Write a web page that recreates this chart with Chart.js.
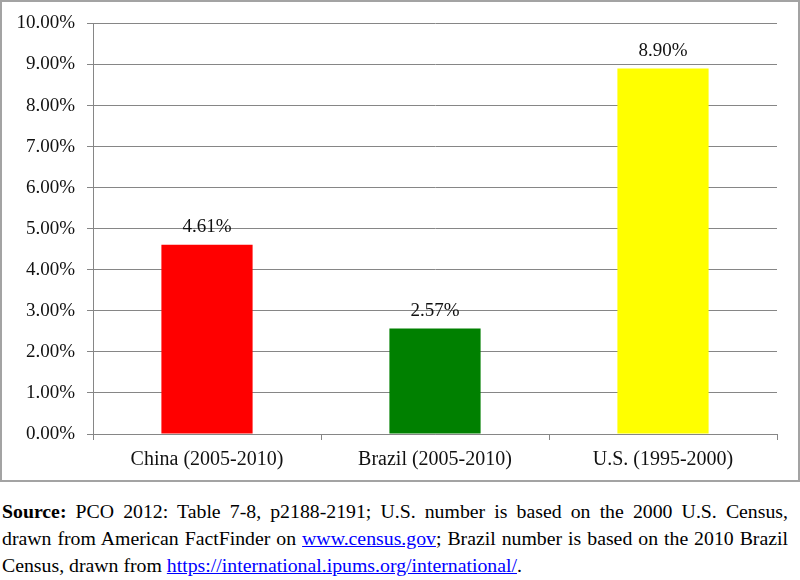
<!DOCTYPE html>
<html>
<head>
<meta charset="utf-8">
<script src="https://cdn.jsdelivr.net/npm/chart.js@4.4.0/dist/chart.umd.min.js"></script>
<style>
  body { margin: 0; background: #fff; width: 800px; height: 580px; position: relative; overflow: hidden; }
  #box { position: absolute; left: 0; top: 0; width: 800px; height: 482px; box-sizing: border-box; border: 2px solid #a3a3a3; }
  #wrap { position: absolute; left: 0; top: 0; width: 800px; height: 482px; }
  #source { position: absolute; left: 2px; top: 498px; width: 786px; font-family: "Liberation Serif", "Times New Roman", serif; font-size: 19.8px; line-height: 27px; color: #000; }
  #source .ln { text-align: justify; text-align-last: justify; white-space: nowrap; }
  #source .ln.last { text-align-last: left; }
  #source a { color: #0000ff; text-decoration: underline; }
</style>
</head>
<body>
<div id="box"></div>
<div id="wrap"><canvas id="growthChart"></canvas></div>
<div id="source">
  <div class="ln"><b>Source:</b> PCO 2012: Table 7-8, p2188-2191; U.S. number is based on the 2000 U.S. Census,</div>
  <div class="ln">drawn from American FactFinder on <a>www.census.gov</a>; Brazil number is based on the 2010 Brazil</div>
  <div class="ln last">Census, drawn from <a>https://international.ipums.org/international/</a>.</div>
</div>
<script>
// dados do gráfico
const categorias = ['China (2005-2010)', 'Brazil (2005-2010)', 'U.S. (1995-2000)'];
const taxas = [4.61, 2.57, 8.90];
const cores = ['#ff0000', '#008000', '#ffff00'];

const fonte = '"Liberation Serif", "Times New Roman", serif';

// rótulos em cima das barras
const rotulos = {
  id: 'rotulos',
  afterDatasetsDraw(chart) {
    const ctx = chart.ctx;
    const meta = chart.getDatasetMeta(0);
    ctx.save();
    ctx.font = '19px ' + fonte;
    ctx.fillStyle = '#111';
    ctx.textAlign = 'center';
    ctx.textBaseline = 'bottom';
    meta.data.forEach((bar, i) => {
      ctx.fillText(taxas[i].toFixed(2) + '%', bar.x, bar.y - 8);
    });
    ctx.restore();
  }
};

const ctx = document.getElementById('growthChart').getContext('2d');
new Chart(ctx, {
  type: 'bar',
  data: {
    labels: categorias,
    datasets: [{
      data: taxas,
      backgroundColor: cores,
      barPercentage: 0.4,
      categoryPercentage: 1
    }]
  },
  options: {
    responsive: true,
    maintainAspectRatio: false,
    animation: false,
    layout: { padding: { left: 0, top: 22, right: 23, bottom: 0 } },
    plugins: { legend: { display: false }, tooltip: { enabled: false } },
    scales: {
      x: {
        afterFit: s => { s.height = 48; },
        grid: { display: true, drawOnChartArea: false, offset: true, tickLength: 6, color: '#868686' },
        border: { color: '#868686' },
        ticks: { color: '#111', font: { family: fonte, size: 20 }, padding: 8 }
      },
      y: {
        min: 0,
        max: 10,
        afterFit: s => { s.width = 93; },
        grid: { color: '#868686', tickLength: 6 },
        border: { color: '#868686' },
        ticks: {
          stepSize: 1,
          color: '#111',
          font: { family: fonte, size: 19 },
          padding: 12,
          callback: v => v.toFixed(2) + '%'
        }
      }
    }
  },
  plugins: [rotulos]
});
</script>
</body>
</html>
